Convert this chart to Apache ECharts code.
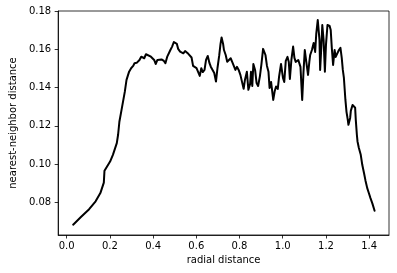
<!DOCTYPE html>
<html>
<head>
<meta charset="utf-8">
<script src="https://cdn.jsdelivr.net/npm/echarts@6/dist/echarts.min.js"></script>
<style>
html,body{margin:0;padding:0;background:#fff;}
#chart{width:397px;height:273px;}
</style>
</head>
<body>
<div id="chart"></div>
<script>
// radial distance values
var radialDistance = [
0.030,0.066,0.104,0.134,0.156,0.172,0.175,0.187,0.201,0.214,
0.232,0.238,0.244,0.254,0.269,0.277,0.289,0.299,0.308,0.314,
0.324,0.330,0.337,0.345,0.352,0.359,0.367,0.376,0.390,0.397,
0.405,0.412,0.420,0.427,0.439,0.450,0.457,0.465,0.472,0.480,
0.488,0.496,0.503,0.510,0.516,0.525,0.532,0.540,0.548,0.555,
0.563,0.570,0.578,0.585,0.593,0.601,0.608,0.616,0.623,0.630,
0.638,0.645,0.653,0.661,0.667,0.676,0.683,0.691,0.698,0.706,
0.712,0.717,0.724,0.728,0.736,0.743,0.751,0.759,0.766,0.774,
0.781,0.788,0.796,0.804,0.811,0.819,0.825,0.834,0.841,0.849,
0.853,0.859,0.864,0.872,0.879,0.886,0.894,0.901,0.909,0.920,
0.927,0.934,0.939,0.946,0.956,0.963,0.969,0.977,0.983,0.992,
1.001,1.007,1.014,1.022,1.028,1.033,1.040,1.048,1.054,1.060,
1.072,1.082,1.090,1.096,1.102,1.109,1.117,1.123,1.127,1.135,
1.143,1.150,1.155,1.162,1.170,1.173,1.179,1.183,1.189,1.195,
1.200,1.207,1.217,1.222,1.227,1.233,1.240,1.245,1.252,1.260,
1.267,1.273,1.278,1.283,1.290,1.295,1.301,1.304,1.308,1.312,
1.315,1.323,1.329,1.335,1.338,1.343,1.346,1.352,1.361,1.368,
1.376,1.383,1.391,1.398,1.406,1.415,1.425
];
// nearest-neighbor distance values
var nnDistance = [
0.0683,0.0723,0.0764,0.0805,0.0848,0.0903,0.0965,0.0987,0.1013,0.1048,
0.1109,0.1153,0.1221,0.1283,0.1377,0.1440,0.1483,0.1502,0.1513,0.1527,
0.1529,0.1539,0.1544,0.1561,0.1552,0.1553,0.1574,0.1570,0.1561,0.1557,
0.1544,0.1523,0.1544,0.1553,0.1547,0.1539,0.1527,0.1560,0.1557,0.1596,
0.1614,0.1638,0.1633,0.1628,0.1602,0.1588,0.1596,0.1579,0.1591,0.1586,
0.1576,0.1570,0.1557,0.1513,0.1509,0.1501,0.1497,0.1461,0.1501,0.1481,
0.1492,0.1544,0.1565,0.1527,0.1509,0.1502,0.1476,0.1431,0.1502,0.1568,
0.1628,0.1662,0.1628,0.1596,0.1570,0.1535,0.1529,0.1553,0.1534,0.1544,
0.1492,0.1508,0.1492,0.1466,0.1471,0.1393,0.1440,0.1482,0.1388,0.1419,
0.1482,0.1408,0.1523,0.1492,0.1423,0.1408,0.1457,0.1518,0.1602,0.1570,
0.1513,0.1482,0.1398,0.1429,0.1335,0.1382,0.1405,0.1393,0.1457,0.1523,
0.1450,0.1429,0.1539,0.1560,0.1534,0.1445,0.1544,0.1614,0.1555,0.1534,
0.1544,0.1508,0.1335,0.1482,0.1596,0.1534,0.1466,0.1534,0.1570,0.1596,
0.1633,0.1586,0.1680,0.1753,0.1649,0.1492,0.1623,0.1727,0.1649,0.1482,
0.1623,0.1727,0.1722,0.1701,0.1607,0.1518,0.1596,0.1560,0.1570,0.1596,
0.1607,0.1555,0.1492,0.1450,0.1335,0.1273,0.1231,0.1205,0.1210,0.1241,
0.1278,0.1309,0.1309,0.1294,0.1231,0.1153,0.1118,0.1085,0.1048,0.0996,
0.0953,0.0913,0.0874,0.0850,0.0822,0.0793,0.0756
];
var xTicks = [0.0, 0.2, 0.4, 0.6, 0.8, 1.0, 1.2, 1.4];
var yTicks = [0.08, 0.10, 0.12, 0.14, 0.16, 0.18];

var points = radialDistance.map(function (x, i) { return [x, nnDistance[i]]; });

var chart = echarts.init(document.getElementById('chart'), null, {renderer: 'canvas'});
var font = 'DejaVu Sans';
chart.setOption({
  animation: false,
  backgroundColor: '#ffffff',
  grid: {
    left: 50, right: 8, top: 11, bottom: 38,
    show: true, borderColor: '#000', borderWidth: 0.8, backgroundColor: 'transparent'
  },
  xAxis: {
    type: 'value',
    min: -0.0393, max: 1.4917,
    name: 'radial distance',
    nameLocation: 'middle',
    nameGap: 20,
    nameTextStyle: {fontFamily: font, fontSize: 10, color: '#000'},
    axisLine: {show: true, onZero: false, lineStyle: {color: '#000', width: 0.8}},
    axisTick: {show: true, inside: false, length: 3.5, lineStyle: {color: '#000', width: 0.8}, customValues: xTicks},
    axisLabel: {
      show: true, margin: 6, fontFamily: font, fontSize: 10, color: '#000',
      customValues: xTicks,
      formatter: function (v) { return v.toFixed(1); }
    },
    splitLine: {show: false}
  },
  yAxis: {
    type: 'value',
    min: 0.0629, max: 0.18,
    name: 'nearest-neighbor distance',
    nameLocation: 'middle',
    nameRotate: 90,
    nameGap: 34,
    nameTextStyle: {fontFamily: font, fontSize: 10, color: '#000'},
    axisLine: {show: true, onZero: false, lineStyle: {color: '#000', width: 0.8}},
    axisTick: {show: true, inside: false, length: 3.5, lineStyle: {color: '#000', width: 0.8}, customValues: yTicks},
    axisLabel: {
      show: true, margin: 7, fontFamily: font, fontSize: 10, color: '#000',
      customValues: yTicks,
      formatter: function (v) { return v.toFixed(2); }
    },
    splitLine: {show: false}
  },
  series: [{
    type: 'line',
    data: points,
    showSymbol: false,
    symbol: 'none',
    lineStyle: {color: '#000', width: 2, join: 'round', cap: 'round'},
    silent: true
  }]
});
</script>
</body>
</html>
